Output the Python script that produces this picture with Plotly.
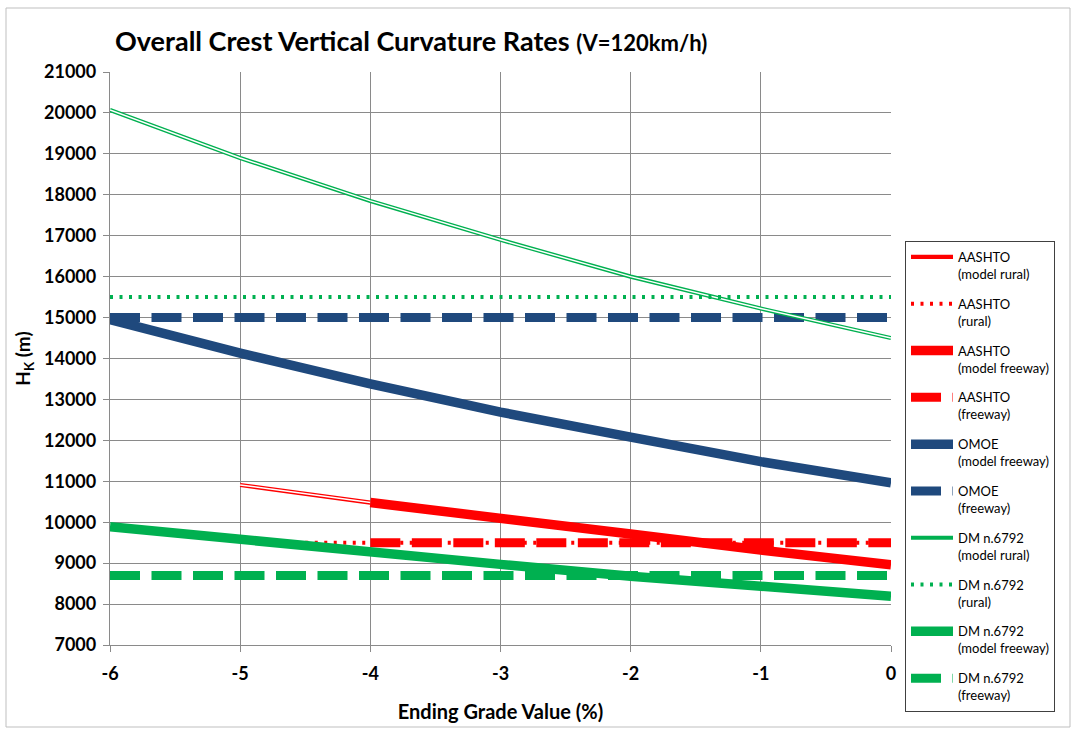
import plotly.graph_objects as go

# Ending grade (%) at which each curve is evaluated
grade = [-6, -5, -4, -3, -2, -1, 0]
grade_aashto_rural_model = [-5, -4]
grade_aashto_freeway_model = [-4, -3, -2, -1, 0]
grade_aashto_rural = [-4.5, 0]
grade_aashto_freeway = [-4, 0]
grade_full = [-6, 0]

# H_K values (m)
aashto_model_rural = [10910, 10480]
aashto_rural = [9500, 9500]
aashto_model_freeway = [10480, 10070, 9710, 9320, 8960]
aashto_freeway = [9500, 9500]
omoe_model_freeway = [14950, 14130, 13380, 12690, 12080, 11480, 10960]
omoe_freeway = [15000, 15000]
dm_model_rural = [20070, 18900, 17850, 16900, 16000, 15220, 14500]
dm_rural = [15500, 15500]
dm_model_freeway = [9890, 9570, 9270, 8970, 8680, 8410, 8190]
dm_freeway = [8700, 8700]

x_ticks = [-6, -5, -4, -3, -2, -1, 0]
x_tick_labels = ["-6", "-5", "-4", "-3", "-2", "-1", "0"]
y_ticks = list(range(7000, 21001, 1000))
y_tick_labels = [str(v) for v in y_ticks]

RED = "#FF0000"
BLUE = "#1F497D"
GREEN = "#00B050"
FONT = "Lato"

fig = go.Figure()


def add_line(x, y, name, color, width, dash="solid", double=False):
    grp = name
    fig.add_trace(go.Scatter(
        x=x, y=y, mode="lines", name=name, legendgroup=grp,
        line=dict(color=color, width=width, dash=dash),
        hoverinfo="skip",
    ))
    if double:
        # white core gives the double-stroke look
        fig.add_trace(go.Scatter(
            x=x, y=y, mode="lines", legendgroup=grp, showlegend=False,
            line=dict(color="white", width=width * 0.35),
            hoverinfo="skip",
        ))


add_line(grade_aashto_rural_model, aashto_model_rural, "AASHTO<br>(model rural)", RED, 4.2, double=True)
add_line(grade_aashto_rural, aashto_rural, "AASHTO<br>(rural)", RED, 4, dash="3px,6.5px")
add_line(grade_aashto_freeway_model, aashto_model_freeway, "AASHTO<br>(model freeway)", RED, 9.5)
add_line(grade_aashto_freeway, aashto_freeway, "AASHTO<br>(freeway)", RED, 9, dash="30px,11.5px")
add_line(grade, omoe_model_freeway, "OMOE<br>(model freeway)", BLUE, 9.5)
add_line(grade_full, omoe_freeway, "OMOE<br>(freeway)", BLUE, 9, dash="30px,11.5px")
add_line(grade, dm_model_rural, "DM n.6792<br>(model rural)", GREEN, 4.2, double=True)
add_line(grade_full, dm_rural, "DM n.6792<br>(rural)", GREEN, 4, dash="3px,6.5px")
add_line(grade, dm_model_freeway, "DM n.6792<br>(model freeway)", GREEN, 9.5)
add_line(grade_full, dm_freeway, "DM n.6792<br>(freeway)", GREEN, 9, dash="30px,11.5px")

GRID = "#8A8A8A"

fig.update_layout(
    width=1072, height=732,
    margin=dict(l=110, r=181, t=72, b=87, autoexpand=False),
    paper_bgcolor="white", plot_bgcolor="white",
    font=dict(family=FONT, color="#000000"),
    title=dict(
        text="<b>Overall Crest Vertical Curvature Rates <span style='font-size:22px'>(V=120km/h)</span></b>",
        x=115 / 1072, xanchor="left", xref="container",
        y=1 - 42 / 732, yanchor="middle", yref="container",
        font=dict(family=FONT, size=27, color="#000000"),
    ),
    legend=dict(
        x=(905 - 110) / 781, y=(645 - 241) / 573, xanchor="left", yanchor="top",
        bordercolor="#404040", borderwidth=1, bgcolor="white",
        font=dict(family=FONT, size=13, color="#000000"),
        tracegroupgap=10, valign="top", itemwidth=42,
    ),
    showlegend=True,
)

fig.update_xaxes(
    range=[-6, 0], tickvals=x_ticks, ticktext=x_tick_labels,
    showgrid=True, gridcolor=GRID, gridwidth=1.3, zeroline=False,
    showline=True, linecolor=GRID, linewidth=1.3,
    ticks="outside", ticklen=6, tickcolor=GRID, tickwidth=1.3,
    ticklabelstandoff=6,
    tickfont=dict(family=FONT, size=18, color="#000000", weight="bold"),
    title=dict(text="<b>Ending Grade Value (%)</b>", font=dict(family=FONT, size=20), standoff=22),
)
fig.update_yaxes(
    range=[7000, 21000], tickvals=y_ticks, ticktext=y_tick_labels,
    showgrid=True, gridcolor=GRID, gridwidth=1.3, zeroline=False,
    showline=True, linecolor=GRID, linewidth=1.3,
    ticks="outside", ticklen=6, tickcolor=GRID, tickwidth=1.3,
    ticklabelstandoff=3,
    tickfont=dict(family=FONT, size=18, color="#000000", weight="bold"),
    title=dict(text="<b>H<sub>K</sub> (m)</b>", font=dict(family=FONT, size=19), standoff=8),
)

# outer chart-area frame
fig.add_shape(
    type="rect", xref="paper", yref="paper",
    x0=(6 - 110) / 781, x1=(1070 - 110) / 781,
    y0=(645 - 727) / 573, y1=(645 - 8) / 573,
    line=dict(color="#BFBFBF", width=1), fillcolor="rgba(0,0,0,0)", layer="below",
)

fig.write_html("out.html")
